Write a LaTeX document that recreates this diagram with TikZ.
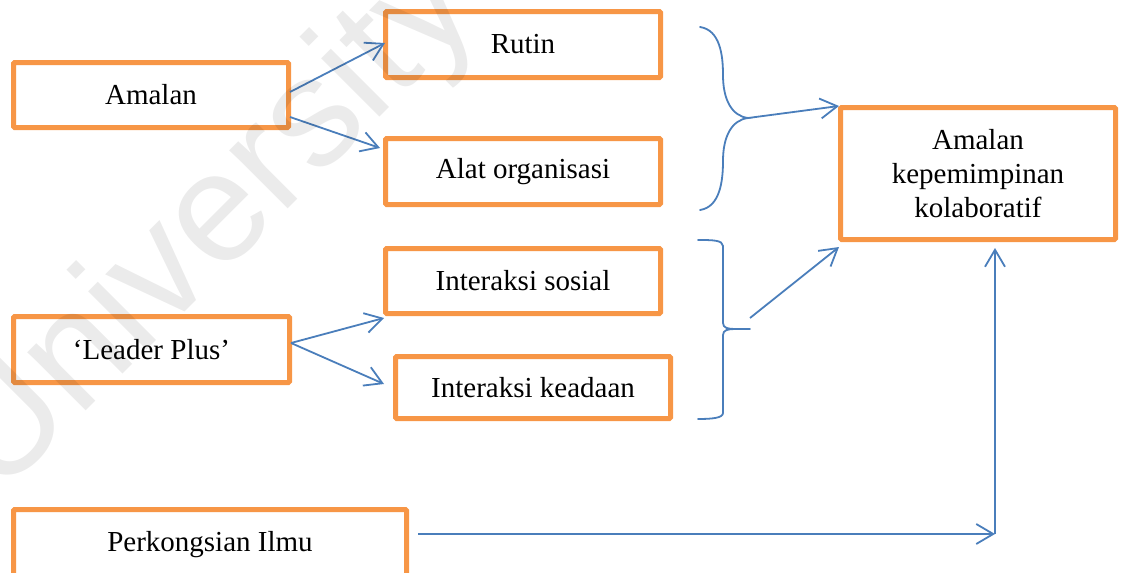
\documentclass[tikz,border=0pt]{standalone}
\usepackage{fontspec}
\setmainfont{Liberation Serif}
\newfontfamily\markfont{Liberation Sans}
\usetikzlibrary{arrows.meta,calc}
\definecolor{boxorange}{HTML}{F79646}
\definecolor{linkblue}{HTML}{4A7EBB}
\begin{document}
\begin{tikzpicture}[x=0.5pt,y=-0.5pt,
  box/.style={draw=boxorange,line width=2.5pt,fill=white,rounded corners=0.6pt,
    inner sep=0pt,align=center,font=\fontsize{14.5}{17}\selectfont},
  link/.style={draw=linkblue,line width=0.9pt,
    -{Straight Barb[length=8.5pt,width=10pt,line width=0.9pt]}},
  bracket/.style={draw=linkblue,line width=0.9pt,line cap=round}]
\useasboundingbox (0,0) rectangle (1125,573);
\clip (0,0) rectangle (1125,573);

% boxes
\node[box,minimum width=137.5pt,minimum height=32.5pt] (amalan) at (151,95) {Amalan};
\node[box,minimum width=137.5pt,minimum height=33pt] (rutin) at (523,44.5) {Rutin};
\node[box,minimum width=137.5pt,minimum height=33pt] (alat) at (523,171.5) {Alat organisasi};
\node[box,minimum width=137.5pt,minimum height=32.5pt] (sosial) at (523,281) {Interaksi sosial};
\node[box,minimum width=138pt,minimum height=33pt] (leader) at (151.5,349.5) {‘Leader Plus’};
\node[box,minimum width=137.5pt,minimum height=31pt] (keadaan) at (533,387.5) {Interaksi keadaan};
\node[box,minimum width=196.5pt,minimum height=35.5pt] (ilmu) at (210,545) {Perkongsian Ilmu};
\node[box,minimum width=137.5pt,minimum height=66pt] (kolab) at (978,173.5)
  {Amalan\\kepemimpinan\\kolaboratif};

% curly brace joining Rutin and Alat organisasi
\coordinate (b1tip) at (748,118);
\draw[bracket] (700,27) .. controls (720,30) and (723,55) .. (723,75)
  .. controls (723,100) and (732,116) .. (b1tip)
  .. controls (732,120) and (723,136) .. (723,161)
  .. controls (723,181) and (720,207) .. (700,210);

% square brace joining the two interaction boxes
\coordinate (b2tip) at (750,329);
\draw[bracket] (698,240) .. controls (712,240) and (723,240) .. (723,246) -- (723,323)
  .. controls (723,328) and (728,329) .. (735,329) -- (b2tip);
\draw[bracket] (735,329) .. controls (728,329) and (723,330) .. (723,335) -- (723,413)
  .. controls (723,418) and (712,419) .. (698,419);
\coordinate (b2out) at (750,318);

% connectors
\draw[link] ($(amalan.east)+(-1,-3)$) -- ($(rutin.west)+(2,-1.5)$);
\draw[link] ($(amalan.east)+(-1,22)$) -- ($(alat.west)+(-3,-23.5)$);
\draw[link] ($(leader.east)+(-1,-6.5)$) -- ($(sosial.south west)+(1,2)$);
\draw[link] ($(leader.east)+(-1,-6.5)$) -- ($(keadaan.west)+(-9,-3.5)$);
\draw[link] (b1tip) -- ($(kolab.north west)+(1,1)$);
\draw[link] (b2out) -- ($(kolab.south west)+(1,5)$);
\coordinate (turn) at (995,534);
\draw[link] ($(ilmu.east)+(9,-11)$) -- (turn);
\draw[link] (turn) -- ($(kolab.south)+(17,6)$);

% faint watermark lettering
\node[rotate=45,font=\markfont\fontsize{78}{78}\selectfont,text=black,
  text opacity=0.08] (mark) at (212,228) {University};
\end{tikzpicture}
\end{document}
